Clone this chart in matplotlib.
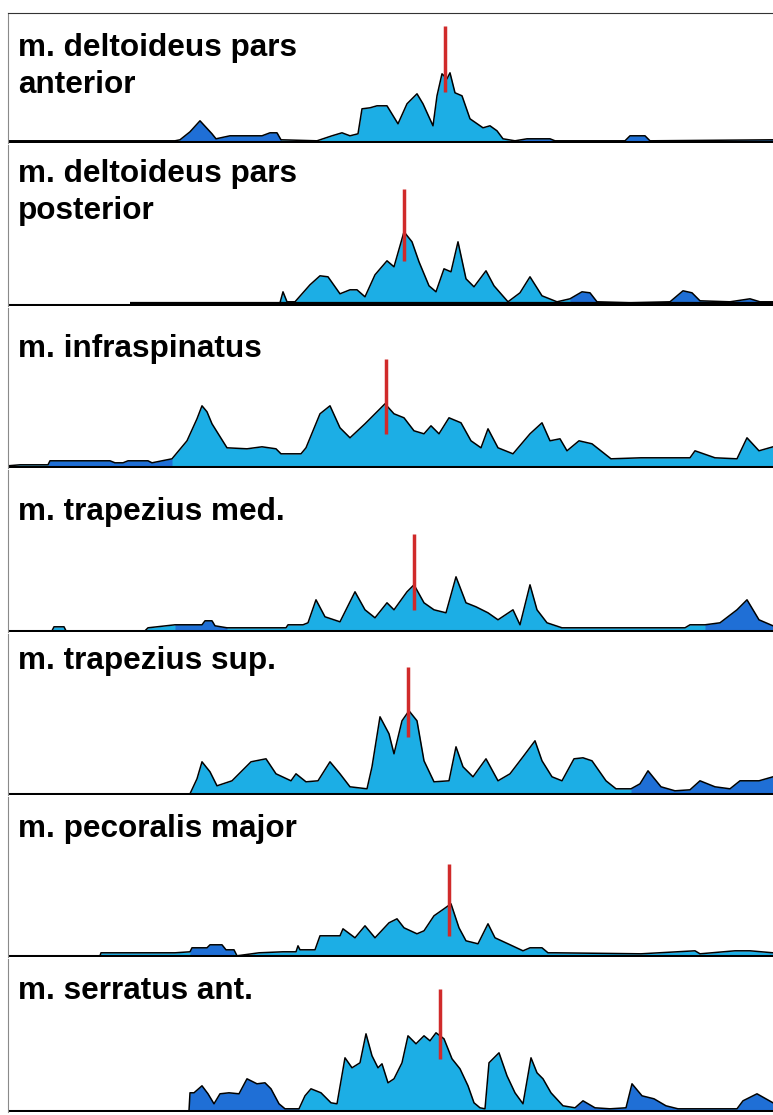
"""EMG envelope panels for seven shoulder muscles, stacked like the acquisition software view."""
import matplotlib

matplotlib.use("Agg")
import matplotlib.pyplot as plt  # noqa: E402
import numpy as np  # noqa: E402

W, H = 773, 1115
LIGHT = "#1CAEE5"
DARK = "#1F6FD6"
RED = "#D02A2A"

# muscle names (one string per panel, newline where the label wraps)
labels = [
    "m. deltoideus pars\nanterior",
    "m. deltoideus pars\nposterior",
    "m. infraspinatus",
    "m. trapezius med.",
    "m. trapezius sup.",
    "m. pecoralis major",
    "m. serratus ant.",
]

# envelope samples: time position (screen px) and amplitude (px above baseline)
ant_x = [8, 175, 180, 190, 200, 212, 216, 230, 262, 270, 277, 281, 317, 332, 342, 350, 358, 362, 370, 377,
         387, 398, 407, 417, 423, 433, 437, 442, 447, 450, 455, 462, 470, 483, 490, 497, 503, 515, 527, 550,
         555, 625, 630, 645, 650, 773]
ant_y = [1, 1, 2, 10, 21, 8, 3, 6, 6, 9, 9, 2, 1, 6, 9, 6, 8, 33, 34, 36,
         36, 18, 38, 48, 38, 16, 46, 68, 63, 69, 49, 46, 23, 14, 16, 11, 3, 1, 3, 3,
         1, 1, 6, 6, 1, 2]

post_x = [8, 130, 185, 280, 283, 287, 295, 310, 320, 328, 340, 350, 357, 365, 375, 387, 394, 404, 412, 419,
          429, 436, 444, 451, 458, 466, 474, 486, 494, 508, 520, 530, 542, 557, 570, 582, 590, 597, 630, 670,
          683, 692, 700, 730, 750, 760, 773]
post_y = [0, 0, 1, 2, 13, 3, 3, 20, 29, 28, 11, 15, 15, 8, 30, 44, 38, 73, 63, 43,
          19, 13, 36, 33, 63, 26, 18, 34, 19, 3, 12, 28, 9, 3, 6, 13, 12, 3, 2, 3,
          14, 12, 4, 3, 6, 3, 3]

infra_x = [8, 20, 48, 50, 110, 115, 123, 128, 148, 152, 172, 187, 197, 202, 207, 212, 227, 247, 262, 276,
           281, 301, 306, 320, 330, 340, 350, 365, 375, 385, 394, 404, 414, 424, 431, 439, 449, 461, 471, 481,
           488, 498, 513, 530, 542, 550, 560, 567, 579, 592, 611, 641, 690, 695, 715, 737, 747, 759, 773]
infra_y = [1, 2, 2, 6, 6, 4, 4, 6, 6, 4, 8, 26, 48, 61, 55, 43, 19, 18, 20, 18,
           13, 13, 19, 53, 61, 39, 29, 43, 53, 63, 53, 49, 36, 33, 41, 33, 49, 44, 26, 19,
           38, 19, 13, 33, 44, 26, 28, 16, 26, 23, 8, 9, 9, 16, 9, 8, 29, 16, 20]

trmed_x = [8, 52, 54, 64, 66, 145, 148, 175, 202, 205, 212, 215, 227, 286, 288, 303, 308, 316, 325, 340,
           355, 365, 375, 387, 394, 407, 414, 424, 434, 446, 456, 466, 476, 488, 498, 513, 520, 530, 537, 547,
           562, 685, 690, 705, 720, 737, 747, 759, 773]
trmed_y = [0, 0, 4, 4, 0, 0, 3, 6, 6, 10, 10, 5, 3, 3, 6, 6, 8, 31, 14, 9,
           39, 21, 13, 28, 21, 39, 46, 28, 21, 18, 54, 28, 24, 18, 11, 21, 6, 46, 21, 8,
           3, 3, 6, 6, 8, 21, 31, 11, 5]

trsup_x = [8, 190, 197, 202, 210, 217, 232, 242, 251, 266, 276, 291, 296, 306, 318, 330, 340, 350, 367, 372,
           380, 389, 394, 402, 409, 417, 424, 434, 449, 456, 463, 473, 486, 498, 510, 523, 535, 542, 552, 562,
           574, 583, 592, 606, 616, 631, 640, 648, 661, 675, 690, 700, 715, 730, 740, 759, 773]
trsup_y = [0, 0, 15, 32, 22, 8, 13, 23, 32, 35, 20, 13, 20, 12, 13, 32, 20, 7, 5, 27,
           77, 60, 40, 73, 83, 73, 33, 12, 13, 47, 27, 17, 35, 13, 20, 37, 53, 33, 17, 13,
           35, 36, 33, 13, 5, 5, 10, 23, 7, 3, 4, 13, 7, 5, 13, 13, 17]

pec_x = [8, 100, 101, 175, 190, 192, 207, 210, 222, 226, 234, 237, 259, 283, 296, 298, 300, 303, 315, 320,
         323, 340, 343, 355, 365, 375, 389, 397, 404, 417, 424, 434, 444, 451, 459, 466, 478, 488, 495, 508,
         523, 530, 542, 548, 555, 641, 695, 700, 735, 750, 773]
pec_y = [0, 0, 3, 3, 4, 8, 8, 11, 11, 6, 6, 0, 3, 4, 4, 10, 6, 6, 6, 20,
         20, 20, 27, 18, 30, 18, 33, 37, 28, 22, 25, 40, 47, 52, 28, 15, 12, 32, 18, 12,
         5, 8, 8, 3, 3, 2, 5, 2, 5, 5, 3]

serr_x = [8, 189, 190, 194, 202, 208, 214, 220, 229, 239, 247, 257, 265, 271, 279, 285, 299, 305, 311, 321,
          331, 337, 345, 352, 360, 366, 372, 378, 382, 388, 394, 402, 408, 416, 424, 430, 436, 444, 452, 460,
          468, 474, 480, 485, 489, 499, 507, 515, 523, 531, 537, 543, 551, 563, 575, 583, 595, 610, 626, 632,
          642, 654, 666, 678, 737, 743, 757, 773]
serr_y = [0, 0, 18, 18, 25, 17, 7, 17, 18, 17, 32, 27, 28, 22, 7, 2, 2, 15, 22, 18,
          8, 7, 53, 43, 48, 77, 55, 43, 47, 28, 32, 48, 75, 67, 75, 70, 78, 72, 52, 42,
          25, 8, 3, 2, 48, 58, 35, 18, 7, 53, 38, 32, 18, 5, 3, 10, 3, 2, 3, 27,
          15, 12, 5, 2, 2, 10, 17, 8]

xs = [ant_x, post_x, infra_x, trmed_x, trsup_x, pec_x, serr_x]
ys = [ant_y, post_y, infra_y, trmed_y, trsup_y, pec_y, serr_y]

# time spans drawn in the darker (low activity) blue
dark_spans = [
    [(175, 282), (510, 773)],
    [(562, 773)],
    [(46, 172)],
    [(168, 230), (700, 773)],
    [(618, 773)],
    [(185, 236)],
    [(189, 300), (575, 773)],
]

# red event marker per panel: position and its lower / upper amplitude
marker_x = [445, 404, 386, 414, 408, 449, 440]
marker_lo = [50, 44, 33, 21, 57, 20, 52]
marker_hi = [116, 116, 108, 97, 127, 92, 122]

# screen layout: top edge and baseline of each strip, label baselines
panel_top = [13, 145, 308, 470, 634, 797, 959]
panel_base = [143, 306, 468, 632, 795, 957, 1112]
label_base = [56, 182, 357, 520, 669, 837, 999]

plt.rcParams["font.family"] = ["Liberation Sans", "DejaVu Sans"]
fig = plt.figure(figsize=(W / 100, H / 100), dpi=100)

for i in range(7):
    top, base = panel_top[i], panel_base[i]
    ax = fig.add_axes([8 / W, 1 - base / H, 1 - 8 / W, (base - top) / H])
    x = np.array(xs[i], dtype=float)
    y = np.array(ys[i], dtype=float)
    ax.fill_between(x, 0, y, color=LIGHT, lw=0)
    for a, b in dark_spans[i]:
        ax.fill_between(x, 0, y, where=(x >= a) & (x <= b), color=DARK, lw=0)
    ax.plot(x, y, color="black", lw=1.1)
    ax.axhline(0, color="black", lw=2.2)
    if i == 1:
        ax.hlines(0, 130, 773, color="black", lw=4.5)
    ax.vlines(marker_x[i], marker_lo[i], marker_hi[i], color=RED, lw=2.5, zorder=5)
    ax.set_xlim(8, W)
    ax.set_ylim(-1.2, base - top - 1.2)
    ax.set_xticks([]); ax.set_yticks([])
    for side in ("top", "right", "bottom"):
        ax.spines[side].set_visible(False)
    ax.spines["left"].set_color("#8a8a8a")
    if i == 0:
        ax.spines["top"].set_visible(True)
        ax.spines["top"].set_color("#333333")
    ax.patch.set_alpha(0)
    for j, line in enumerate(labels[i].split("\n")):
        fig.text(18 / W, 1 - (label_base[i] + 37 * j) / H, line, fontsize=22.7, fontweight="bold",
                 va="baseline", ha="left", color="black")

fig.savefig("out.png", dpi=100)
